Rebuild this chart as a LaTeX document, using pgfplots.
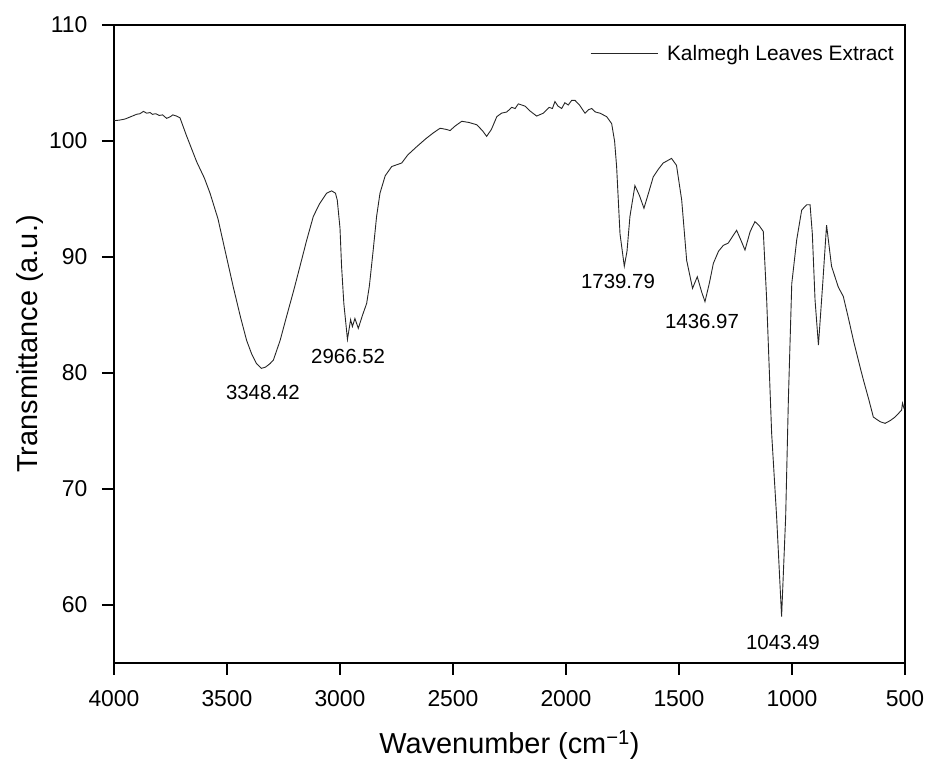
\documentclass[border=0pt]{standalone}
\usepackage{fontspec}
\setmainfont{Liberation Sans}
\usepackage{pgfplots}
\pgfplotsset{compat=1.18}
\begin{document}
\begin{tikzpicture}
\begin{axis}[
  scale only axis, width=791bp, height=638bp,
  x dir=reverse, xmin=500, xmax=4000, ymin=55, ymax=110,
  xtick={500,1000,...,4000}, ytick={60,70,...,110},
  axis line style={line width=1.6bp},
  tick style={line width=1.6bp, black},
  major tick length=12bp,
  tick align=outside,
  xtick pos=left, ytick pos=left,
  minor tick num=0,
  tick label style={font=\fontsize{23}{23}\selectfont},
  xticklabel style={yshift=-12bp},
  yticklabel style={xshift=-11bp},
  /pgf/number format/assume math mode=true,
  /pgf/number format/1000 sep={},
  xlabel={Wavenumber (cm\textsuperscript{−1})},
  ylabel={Transmittance (a.u.)},
  label style={font=\fontsize{29}{29}\selectfont},
  xlabel style={at={(axis description cs:0.5,-0.1285)}, anchor=center},
  ylabel style={at={(axis description cs:-0.1062,0.5)}, anchor=center},
  legend style={draw=none, fill=none, at={(axis description cs:1,1)}, anchor=north east,
    xshift=-6bp, yshift=-16bp, font=\fontsize{21}{21}\selectfont},
  legend cell align=left,
  legend image code/.code={\draw[#1] (0bp,0bp) -- (67bp,0bp); \path (74bp,0bp);},
]
\addplot[color=black!85, line width=0.9bp] coordinates {
(4000,101.75) (3975,101.8) (3950,101.9) (3925,102.1) (3900,102.3) (3885,102.35) (3870,102.55)
(3855,102.4) (3840,102.45) (3830,102.3) (3815,102.35) (3800,102.2) (3785,102.25)
(3767,101.95) (3750,102.1) (3740,102.25) (3723,102.15) (3708,102.0) (3680,100.5) (3650,99.0)
(3634,98.2) (3600,96.8) (3575,95.5) (3540,93.3) (3509,90.6) (3472,87.4)
(3440,84.8) (3413,82.8) (3390,81.6) (3369,80.8) (3348,80.4) (3330,80.5)
(3310,80.8) (3295,81.1) (3265,82.8) (3236,84.9) (3205,87.1) (3177,89.2)
(3148,91.4) (3118,93.5) (3090,94.6) (3059,95.5) (3037,95.7) (3020,95.5)
(3012,94.9) (3000,92.5) (2993,89.2) (2983,86.0) (2967,82.9) (2953,84.6)
(2945,84.0) (2934,84.7) (2919,83.85) (2900,85.0) (2882,86.0) (2870,87.5)
(2853,90.6) (2838,93.5) (2823,95.5) (2800,97.0) (2771,97.8) (2727,98.1)
(2700,98.8) (2661,99.5) (2620,100.2) (2587,100.7) (2557,101.1) (2530,101.0)
(2513,100.9) (2490,101.3) (2461,101.7) (2430,101.6) (2395,101.4) (2370,100.9)
(2351,100.4) (2330,101.0) (2306,102.1) (2285,102.4) (2262,102.5) (2240,102.9)
(2225,102.8) (2211,103.2) (2195,103.1) (2181,103.0) (2160,102.6) (2130,102.15) (2100,102.4) (2075,102.9)
(2060,102.8) (2049,103.4) (2035,103.0) (2019,102.8) (2005,103.3) (1990,103.1) (1975,103.5) (1960,103.5) (1940,103.1) (1916,102.4)
(1900,102.7) (1886,102.8) (1870,102.5) (1850,102.4) (1820,102.1) (1798,101.5) (1785,100.0) (1776,97.8)
(1761,92.0) (1742,89.2) (1730,90.5) (1717,93.5) (1695,96.15) (1675,95.3)
(1655,94.2) (1635,95.5) (1614,96.9) (1590,97.6) (1570,98.1) (1533,98.5)
(1511,97.9) (1488,94.9) (1466,89.7) (1440,87.3) (1419,88.3) (1400,87.0)
(1385,86.15) (1365,87.8) (1348,89.45) (1325,90.5) (1304,91.0) (1282,91.2)
(1262,91.8) (1245,92.3) (1225,91.4) (1208,90.6) (1185,92.2) (1164,93.05)
(1145,92.7) (1127,92.2) (1112,86.3) (1090,74.8) (1068,67.6) (1046,59.0)
(1028,67.6) (1016,77.7) (1001,87.7) (979,91.5) (957,94.05) (935,94.5)
(920,94.5) (910,92.0) (898,86.3) (883,82.4) (864,87.7) (847,92.75)
(825,89.2) (795,87.4) (773,86.6) (750,84.7) (728,82.8) (700,80.6)
(684,79.4) (660,77.7) (640,76.2) (610,75.8) (588,75.66) (565,75.9)
(544,76.2) (515,76.8) (511,77.4) (505,77.0) (500,77.2)
};
\addlegendentry{Kalmegh Leaves Extract}
\node[font=\fontsize{20.5}{20.5}\selectfont] at (axis cs:3341,78.3) {3348.42};
\node[font=\fontsize{20.5}{20.5}\selectfont] at (axis cs:2964,81.4) {2966.52};
\node[font=\fontsize{20.5}{20.5}\selectfont] at (axis cs:1770,87.85) {1739.79};
\node[font=\fontsize{20.5}{20.5}\selectfont] at (axis cs:1398,84.4) {1436.97};
\node[font=\fontsize{20.5}{20.5}\selectfont] at (axis cs:1040,56.8) {1043.49};
\end{axis}
\pgfresetboundingbox
\path[use as bounding box] ([xshift=-114bp,yshift=-100bp]current axis.south west) rectangle ([xshift=21bp,yshift=25bp]current axis.north east);
\end{tikzpicture}
\end{document}
